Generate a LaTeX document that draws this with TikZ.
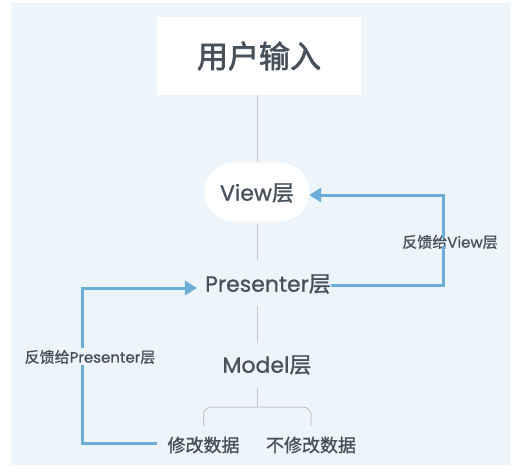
\documentclass[tikz,border=0pt]{standalone}
\usepackage{fontspec}
\setmainfont{Noto Sans CJK SC}
\newfontfamily\cjkf{Noto Sans CJK SC}[FakeBold=1.2]
\newfontfamily\cjkh{Noto Sans CJK SC}[FakeBold=2]
\newfontfamily\latf{Poppins}[FakeBold=0.9]
\usetikzlibrary{arrows.meta,calc,shapes.geometric}
\definecolor{bgc}{HTML}{EEF5FA}
\definecolor{txt}{HTML}{46515C}
\definecolor{fbc}{HTML}{6BAED8}
\definecolor{gln}{HTML}{C2C8CD}
\tikzset{
  lbl/.style={inner sep=0pt, text=txt, font=\cjkf\fontsize{22}{24}\selectfont},
  small/.style={inner sep=0pt, text=txt, font=\cjkf\fontsize{15}{17}\selectfont},
  sub/.style={inner sep=0pt, text=txt, font=\cjkf\fontsize{18}{20}\selectfont},
  gline/.style={draw=gln, line width=1pt},
  fb/.style={draw=fbc, line width=3pt},
  fbarrow/.style={fb, -{Triangle[length=12pt,width=14pt]}},
}
\begin{document}
\begin{tikzpicture}[x=1pt,y=-1pt]
\useasboundingbox (0,0) rectangle (519,471);
\fill[white] (0,0) rectangle (519,471);
\fill[bgc] (11,3) rectangle (510,465);
% nodes
\node[fill=white, minimum width=204pt, minimum height=78pt, inner sep=0pt, text=txt,
      font=\cjkh\fontsize{31}{33}\selectfont] (input) at (259,56) {用户输入};
\node[fill=white, rounded corners=29pt, minimum width=104pt, minimum height=59pt, inner sep=0pt] (viewbg) at (257,192) {};
\node[lbl] (view) at (257,193) {{\latf View}层};
\node[lbl] (pres) at (268,284) {{\latf Presenter}层};
\node[lbl] (model) at (267,365) {{\latf Model}层};
\node[sub] (mod) at (203.5,445) {修改数据};
\node[sub] (nomod) at (311,445) {不修改数据};
\node[small] (lblv) at (450,242) {反馈给{\latf View}层};
\node[small] (lblp) at (90,357) {反馈给{\latf Presenter}层};
% gray connectors
\coordinate (bj) at (257,407);
\draw[gline] (input.south -| viewbg) -- (viewbg.north);
\draw[gline, shorten <=2pt, shorten >=14pt] (viewbg.south) -- (pres.north -| viewbg);
\draw[gline, shorten <=12pt, shorten >=12pt] (pres.south -| viewbg) -- (model.north -| viewbg);
\draw[gline, shorten <=13pt] (model.south -| viewbg) -- (bj);
\draw[gline, rounded corners=8pt, shorten >=10pt] (bj) -| (mod.north);
\draw[gline, rounded corners=8pt, shorten >=10pt] (bj) -| (nomod.north);
% feedback to View
\coordinate (rc1) at (443,285);
\coordinate (rc2) at (443,195);
\draw[fb] (pres.east |- rc1) -- (rc1) -- ($(lblv.south -| rc1)+(0,-3)$);
\draw[fbarrow] ($(lblv.north -| rc1)+(0,3)$) -- (rc2) -- (viewbg.east |- rc2);
% feedback to Presenter
\coordinate (lc1) at (82,288);
\coordinate (lc2) at (82,443);
\draw[fbarrow] ($(lblp.north -| lc1)+(0,-2)$) -- (lc1) -- ([xshift=-8pt]pres.west |- lc1);
\draw[fb] ($(lblp.south -| lc1)+(0,1)$) -- (lc2) -- ([xshift=-10pt]mod.west |- lc2);
\end{tikzpicture}
\end{document}
